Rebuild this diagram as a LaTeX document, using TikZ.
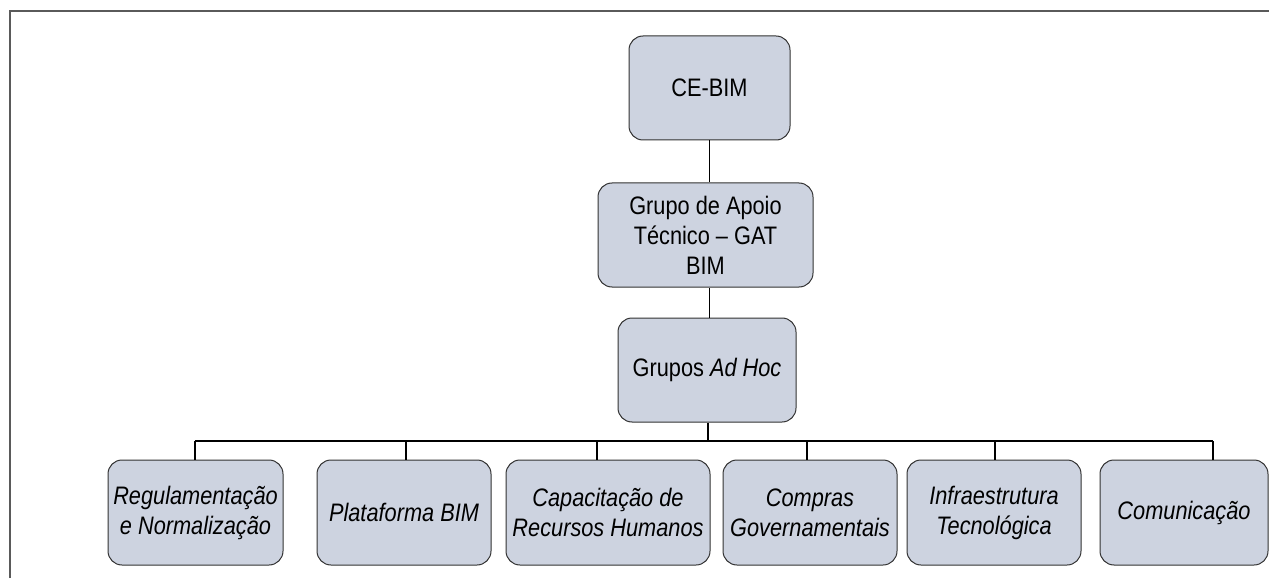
\documentclass[tikz,border=0pt]{standalone}
\usepackage{fontspec}
\setmainfont{Liberation Sans}[FakeStretch=0.86]
\definecolor{boxfill}{RGB}{205,211,224}
\definecolor{boxdraw}{RGB}{50,50,50}
\definecolor{framecol}{RGB}{90,90,90}
\begin{document}
\begin{tikzpicture}[x=1pt,y=-1pt,
  orgbox/.style={draw=boxdraw,line width=1pt,fill=boxfill,rounded corners=14pt,
    align=center,inner sep=2pt,font=\fontsize{25.3}{30}\selectfont,text=black},
  link/.style={draw=black,line width=1.2pt}]
\useasboundingbox (0,0) rectangle (1269,580);
% frame
\coordinate (fl) at (10,578);
\coordinate (ft) at (10,11);
\coordinate (fr) at (1269,11);
\draw[framecol,line width=1.6pt] (fl) -- (ft) -- (fr);
% nodes
\node[orgbox,minimum width=161pt,minimum height=104pt] (ce) at (709.5,88) {CE-BIM};
\node[orgbox,minimum width=215pt,minimum height=104pt] (gat) at (705.5,235) {Grupo de Apoio\\Técnico – GAT\\BIM};
\node[orgbox,minimum width=178pt,minimum height=104pt] (adhoc) at (707,370) {Grupos \textit{Ad Hoc}};
\node[orgbox,minimum width=175pt,minimum height=105pt] (reg) at (195.5,512.5) {\itshape Regulamentação\\\itshape e Normalização};
\node[orgbox,minimum width=174pt,minimum height=105pt] (plat) at (404,512.5) {\itshape Plataforma BIM};
\node[orgbox,minimum width=204pt,minimum height=105pt] (cap) at (608,512.5) {\itshape Capacitação de\\\itshape Recursos Humanos};
\node[orgbox,minimum width=174pt,minimum height=105pt] (comp) at (810,512.5) {\itshape Compras\\\itshape Governamentais};
\node[orgbox,minimum width=174pt,minimum height=105pt] (infra) at (994,512.5) {\itshape Infraestrutura\\\itshape Tecnológica};
\node[orgbox,minimum width=168pt,minimum height=105pt] (comm) at (1184,512.5) {\itshape Comunicação};
% connectors
\draw[link] (ce.south) -- (ce.south |- gat.north);
\draw[link] (adhoc.north -| ce.south) -- (gat.south -| ce.south);
\coordinate (bus) at (708,441);
\draw[link] (adhoc.south -| bus) -- (bus);
\coordinate (c1) at (195,441);
\coordinate (c2) at (406,441);
\coordinate (c3) at (597,441);
\coordinate (c4) at (807,441);
\coordinate (c5) at (995,441);
\coordinate (c6) at (1213,441);
\draw[link] (c1) -- (c6);
\draw[link] (c1) -- (c1 |- reg.north);
\draw[link] (c2) -- (c2 |- plat.north);
\draw[link] (c3) -- (c3 |- cap.north);
\draw[link] (c4) -- (c4 |- comp.north);
\draw[link] (c5) -- (c5 |- infra.north);
\draw[link] (c6) -- (c6 |- comm.north);
\end{tikzpicture}
\end{document}
